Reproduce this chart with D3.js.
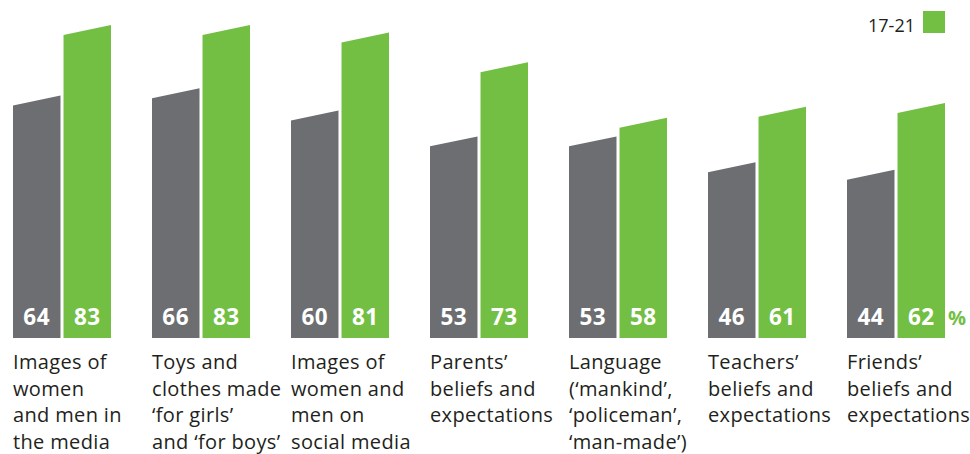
<!DOCTYPE html>
<html>
<head>
<meta charset="utf-8">
<script src="https://cdn.jsdelivr.net/npm/d3@7"></script>
<style>
  body { margin: 0; background: #fff; }
  svg text { font-family: "Open Sans", "Noto Sans", sans-serif; }
</style>
</head>
<body>
<div id="chart"></div>
<script>
// chart data
var categories = [
  ["Images of", "women", "and men in", "the media"],
  ["Toys and", "clothes made", "\u2018for girls\u2019", "and \u2018for boys\u2019"],
  ["Images of", "women and", "men on", "social media"],
  ["Parents\u2019", "beliefs and", "expectations"],
  ["Language", "(\u2018mankind\u2019,", "\u2018policeman\u2019,", "\u2018man-made\u2019)"],
  ["Teachers\u2019", "beliefs and", "expectations"],
  ["Friends\u2019", "beliefs and", "expectations"]
];
var series = ["younger", "17-21"];
var grayValues = [64, 66, 60, 53, 53, 46, 44];
var greenValues = [83, 83, 81, 73, 58, 61, 62];
var legendLabel = "17-21";

var width = 970, height = 454;
var gray = "#6d6e71", green = "#72bf44", textColor = "#231f20";

var svg = d3.select("#chart").append("svg")
    .attr("width", width)
    .attr("height", height);

// x scale: one band per category, inner band per series
var x = d3.scaleBand()
  .domain(d3.range(categories.length))
  .range([13, 945])
  .paddingInner(0.295)
  .paddingOuter(0);

var xSub = d3.scaleBand()
  .domain(series)
  .range([0, x.bandwidth()])
  .paddingInner(0.06);

var y = d3.scaleLinear()
  .domain([0, 90])
  .range([338, 338 - 90 * 3.71]);

// bars with a slanted top
var bars = [];
categories.forEach(function(c, i) {
  bars.push({i: i, s: series[0], v: grayValues[i], color: gray});
  bars.push({i: i, s: series[1], v: greenValues[i], color: green});
});

function barPath(d) {
  var x0 = x(d.i) + xSub(d.s), w = xSub.bandwidth();
  var yt = y(d.v), slant = w * 0.105;
  return "M" + x0 + "," + y(0) +
    "L" + x0 + "," + (yt + slant) +
    "L" + (x0 + w) + "," + (yt - slant) +
    "L" + (x0 + w) + "," + y(0) + "Z";
}

svg.selectAll(".bar")
  .data(bars)
  .enter()
  .append("path")
    .attr("class", "bar")
    .attr("d", barPath)
    .attr("fill", function(d) { return d.color; });

// value labels at the foot of each bar
svg.selectAll(".val")
  .data(bars)
  .enter()
  .append("text")
    .attr("class", "val")
    .attr("x", function(d) { return x(d.i) + xSub(d.s) + xSub.bandwidth() / 2; })
    .attr("y", 325)
    .attr("text-anchor", "middle")
    .attr("fill", "#fff")
    .attr("font-weight", "bold")
    .attr("font-size", "22.5px")
    .attr("letter-spacing", "0.5px")
    .text(function(d) { return d.v; });

// percent sign after the last bar
svg.append("text")
  .attr("x", x(categories.length - 1) + x.bandwidth() + 3)
  .attr("y", 325)
  .attr("fill", green)
  .attr("font-weight", "bold")
  .attr("font-size", "20px")
  .text("%");

// category labels under the bars
var labels = svg.selectAll(".cat")
  .data(categories)
  .enter()
  .append("text")
    .attr("class", "cat")
    .attr("x", function(d, i) { return x(i); })
    .attr("y", 369)
    .attr("fill", textColor)
    .attr("font-size", "20px")
    .attr("letter-spacing", "0.35px");

labels.selectAll("tspan")
  .data(function(d, i) { return d.map(function(t) { return {t: t, i: i}; }); })
  .enter()
  .append("tspan")
    .attr("x", function(d) { return x(d.i); })
    .attr("dy", function(d, j) { return j === 0 ? 0 : 26.7; })
    .text(function(d) { return d.t; });

// legend
svg.append("rect")
  .attr("x", 923)
  .attr("y", 11)
  .attr("width", 22)
  .attr("height", 22)
  .attr("fill", green);

svg.append("text")
  .attr("x", 915)
  .attr("y", 32)
  .attr("text-anchor", "end")
  .attr("fill", textColor)
  .attr("font-size", "18px")
  .text(legendLabel);
</script>
</body>
</html>
